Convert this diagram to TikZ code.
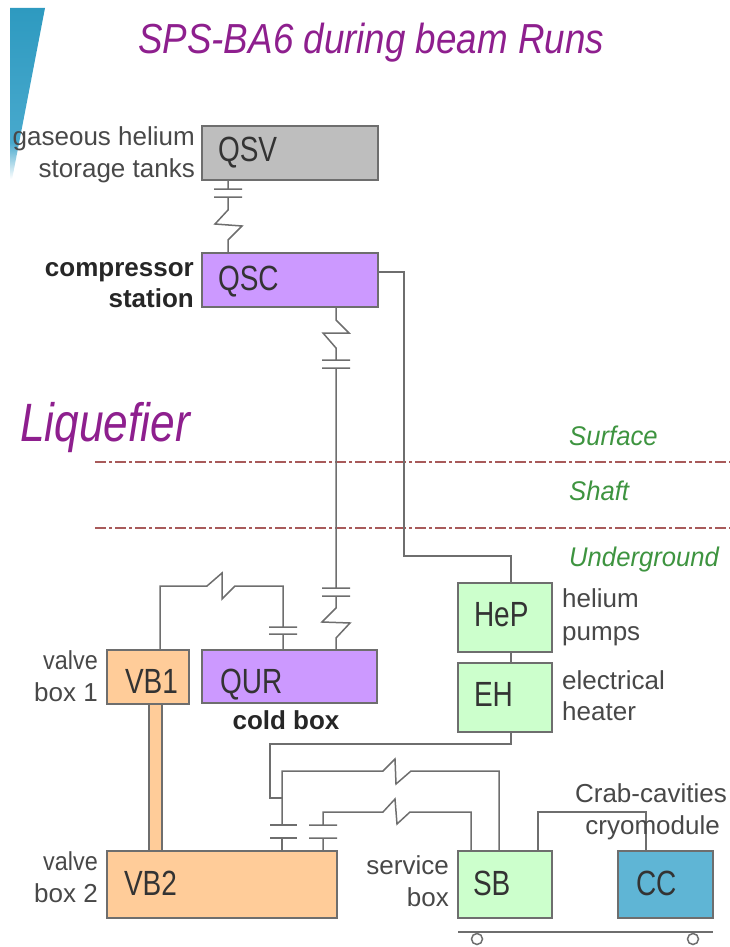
\documentclass[tikz,border=0pt]{standalone}
\usepackage{fontspec}
\setmainfont{Liberation Sans}
\usetikzlibrary{shadings}
\definecolor{edge}{HTML}{6E6E6E}
\definecolor{ink}{HTML}{484848}
\definecolor{titlepurple}{HTML}{8E1F8E}
\definecolor{zone}{HTML}{3E9440}
\definecolor{redline}{HTML}{A85A5A}
\definecolor{lilac}{HTML}{CC99FF}
\definecolor{peach}{HTML}{FFCC99}
\definecolor{mint}{HTML}{CCFFCC}
\definecolor{sky}{HTML}{5FB5D5}
\definecolor{tank}{HTML}{BEBEBE}
\definecolor{wedgetop}{HTML}{2E9AC0}
\definecolor{wedgemid}{HTML}{48A9CD}
\pgfdeclareverticalshading{wedgefade}{100bp}{color(0bp)=(white); color(28bp)=(white); color(38bp)=(wedgemid); color(75bp)=(wedgetop); color(100bp)=(wedgetop)}
\newcommand{\sq}[1]{\scalebox{0.8}[1]{#1}}
\newcommand{\bt}[2]{\raisebox{-#1pt}[0pt][0pt]{\sq{#2}}}
\tikzset{
  x=1pt,y=-1pt,
  bx/.style 2 args={draw=edge,line width=1.7pt,anchor=north west,outer sep=0pt,inner xsep=0pt,inner ysep=0pt,
     minimum width=#1pt,minimum height=#2pt,text width=#1pt,align=left,text=black!80,font=\fontsize{35}{35}\selectfont},
  pipe/.style={draw=edge,line width=1.5pt,line join=miter},
  lab/.style={anchor=base east,inner sep=0pt,text=ink,font=\fontsize{26}{26}\selectfont},
  labl/.style={anchor=base west,inner sep=0pt,text=ink,font=\fontsize{26}{26}\selectfont},
  blab/.style={anchor=base east,inner sep=0pt,text=black!85,font=\fontsize{26}{26}\selectfont\bfseries},
  zonetxt/.style={anchor=base west,inner sep=0pt,text=zone,font=\fontsize{27}{27}\selectfont\itshape},
  sep/.style={draw=redline,line width=1.1pt,dash pattern=on 11pt off 3pt on 3pt off 3pt},
}
\newcommand{\zn}[1]{\scalebox{0.95}[1]{#1}}
\newcommand{\nr}[1]{\scalebox{0.9}[1]{#1}}
\begin{document}
\begin{tikzpicture}
\useasboundingbox (0,0) rectangle (730,947);
% corner wedge
\shade[shading=wedgefade] (10,8) -- (45,8) -- (10,190) -- cycle;
% titles
\node[anchor=base west,inner sep=0pt,text=titlepurple,font=\fontsize{42}{42}\selectfont\itshape] (title) at (138,54) {\scalebox{0.875}[1]{SPS-BA6 during beam Runs}};
\node[anchor=base west,inner sep=0pt,text=titlepurple,font=\fontsize{54}{54}\selectfont\itshape] (liq) at (20,441) {\scalebox{0.82}[1]{Liquefier}};
% level lines
\coordinate (s1l) at (95,462); \coordinate (s1r) at (730,462);
\coordinate (s2l) at (95,528); \coordinate (s2r) at (730,528);
\draw[sep] (s1l) -- (s1r);
\draw[sep] (s2l) -- (s2r);
\node[zonetxt] (surf) at (569,445) {\zn{Surface}};
\node[zonetxt] (shaft) at (569,500) {\zn{Shaft}};
\node[zonetxt] (under) at (569,566) {\zn{Underground}};
% thick link under the boxes
\filldraw[fill=peach,draw=edge,line width=1.2pt] (149,704) rectangle (162,851);
% boxes
\node[bx={176}{54},fill=tank] (QSV) at (202,126) {\hspace*{16pt}\bt{9}{QSV}};
\node[bx={176}{54},fill=lilac] (QSC) at (202,253) {\hspace*{16pt}\bt{10}{QSC}};
\node[bx={175}{53},fill=lilac] (QUR) at (202,650) {\hspace*{18pt}\bt{17}{QUR}};
\node[bx={82}{54},fill=peach] (VB1) at (107,650) {\hspace*{18pt}\bt{16}{VB1}};
\node[bx={230}{67},fill=peach] (VB2) at (107,851) {\hspace*{17pt}\bt{11}{VB2}};
\node[bx={94}{69},fill=mint] (HeP) at (458,583) {\hspace*{16pt}\bt{9}{HeP}};
\node[bx={94}{69},fill=mint] (EH) at (458,663) {\hspace*{16pt}\bt{9}{EH}};
\node[bx={94}{67},fill=mint] (SB) at (458,851) {\hspace*{15pt}\bt{10.5}{SB}};
\node[bx={95}{67},fill=sky] (CC) at (618,851) {\hspace*{18pt}\bt{10.5}{CC}};
% labels
\node[lab] (l1) at (195,145) {gaseous helium};
\node[lab] (l2) at (195,177) {storage tanks};
\node[blab] (l3) at (194,276) {compressor};
\node[blab] (l4) at (194,307) {station};
\node[lab] (l5) at (98,669) {\nr{valve}};
\node[lab] (l6) at (98,701) {box 1};
\node[anchor=base,inner sep=0pt,text=black!85,font=\fontsize{26}{26}\selectfont\bfseries] (l7) at (286,729) {cold box};
\node[labl] (l8) at (562,607) {helium};
\node[labl] (l9) at (562,640) {pumps};
\node[labl] (l10) at (562,689) {electrical};
\node[labl] (l11) at (562,720) {heater};
\node[lab] (l12) at (98,870) {\nr{valve}};
\node[lab] (l13) at (98,902) {box 2};
\node[lab] (l14) at (449,874) {service};
\node[lab] (l15) at (449,906) {box};
% QSV - QSC
\coordinate (a1) at (228,180); \coordinate (a2) at (228,253);
\draw[pipe] (a1) -- (228,189) (214,189) -- (242,189) (214,197) -- (242,197)
  (228,197) -- (228,210) -- (215,224) -- (242,226) -- (228,240) -- (a2);
% QSC - QUR
\coordinate (b1) at (336,307); \coordinate (b2) at (336,650);
\draw[pipe] (b1) -- (336,320) -- (349,333) -- (323,333) -- (336,348) -- (336,360)
  (322,360) -- (350,360) (322,368) -- (350,368)
  (336,368) -- (336,588) (322,588) -- (350,588) (322,596) -- (350,596)
  (336,596) -- (336,608) -- (322,622) -- (350,623) -- (336,638) -- (b2);
% VB1 - QUR
\coordinate (c1) at (160,650); \coordinate (c2) at (283,650);
\draw[pipe] (c1) -- (160,586) -- (207,586) -- (222,573) -- (222,599) -- (235,586) -- (283,586) -- (283,627)
  (269,627) -- (297,627) (269,634) -- (297,634) (283,634) -- (c2);
% QSC - HeP - EH
\coordinate (d1) at (378,272); \coordinate (d2) at (511,583);
\coordinate (d3) at (511,652); \coordinate (d4) at (511,663);
\draw[pipe] (d1) -- (404,272) -- (404,556) -- (511,556) -- (d2);
\draw[pipe] (d3) -- (d4);
% EH - VB2
\coordinate (e1) at (511,732); \coordinate (e2) at (282,851);
\draw[pipe] (e1) -- (511,744) -- (270,744) -- (270,798) -- (282,798);
\draw[pipe] (e2) -- (282,838) (270,838) -- (297,838) (270,825) -- (297,825);
% VB2 - SB (1)
\coordinate (f1) at (499,851);
\draw[pipe] (282,825) -- (282,771) -- (383,771) -- (395,759) -- (396,784) -- (411,771) -- (499,771) -- (f1);
% VB2 - SB (2)
\coordinate (g1) at (323,851); \coordinate (g2) at (471,851);
\draw[pipe] (g1) -- (323,838) (309,838) -- (337,838) (309,825) -- (337,825)
  (323,825) -- (323,812) -- (383,812) -- (395,799) -- (397,824) -- (410,812) -- (471,812) -- (g2);
% SB - CC
\coordinate (h1) at (538,851); \coordinate (h2) at (646,851);
\draw[pipe] (h1) -- (538,812) -- (646,812) -- (h2);
% labels over pipe
\node[lab] (l16) at (727,802) {Crab-cavities};
\node[lab] (l17) at (720,834) {cryomodule};
% trolley
\coordinate (t1) at (458,932); \coordinate (t2) at (713,932);
\draw[pipe] (t1) -- (t2);
\node[circle,draw=edge,line width=1.5pt,fill=white,minimum size=11pt,inner sep=0pt] (w1) at (477,939) {};
\node[circle,draw=edge,line width=1.5pt,fill=white,minimum size=11pt,inner sep=0pt] (w2) at (693,939) {};
\end{tikzpicture}
\end{document}
